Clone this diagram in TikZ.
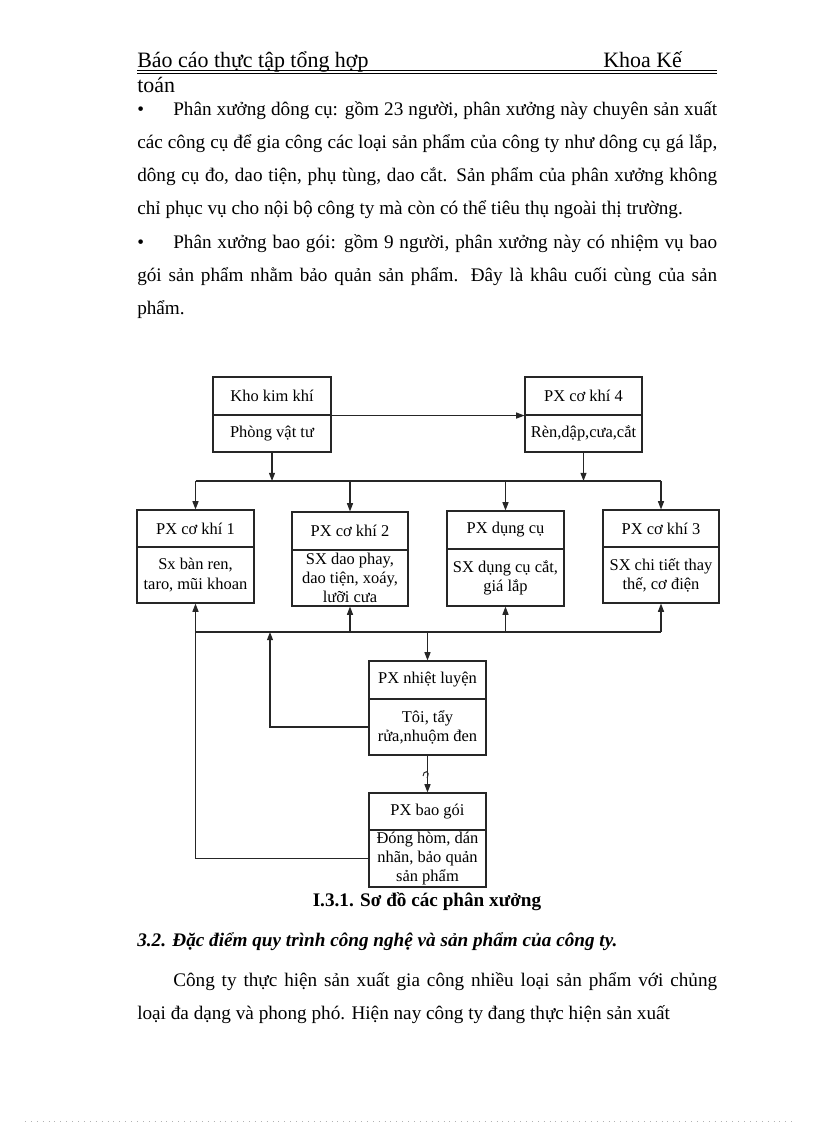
\documentclass[tikz,border=0pt]{standalone}
\usepackage{fontspec}
\setmainfont{Liberation Serif}
\usetikzlibrary{arrows.meta}
\newcommand\pbox[6]{\node[part, minimum width={(#4-#2)*0.7295pt}, minimum height={(#5-#3)*0.7295pt}] (#1) at ({(#2+#4)/2},{(#3+#5)/2}) {#6};}
\begin{document}
\begin{tikzpicture}[x=0.7295pt, y=-0.7295pt,
  part/.style={draw=black!85, line width=0.8pt, inner sep=0pt, align=center, font=\fontsize{12}{14}\selectfont},
  conn/.style={draw=black!85, line width=0.8pt},
  arr/.style={conn, -{Triangle[length=6pt,width=4.4pt]}},
  body/.style={anchor=base west, inner sep=0pt, font=\fontsize{14}{16}\selectfont},
  headtext/.style={anchor=base west, inner sep=0pt, font=\fontsize{16}{18}\selectfont},
  captext/.style={anchor=base, inner sep=0pt, font=\fontsize{14}{16}\selectfont\bfseries}]
\useasboundingbox (0,0) rectangle (816,1123);

% header
\node[headtext] (h1) at (137,67) {Báo cáo thực tập tổng hợp};
\node[headtext] (h2) at (603,67) {Khoa Kế};
\draw[line width=0.7pt] (137,70) -- (717,70);
\draw[line width=0.7pt] (137,73) -- (717,73);
\node[headtext] (h3) at (137,92) {toán};

% first bullet
\node[body] (bu1) at (137,115) {•};
\node[body] (p1) at (173,115) {\makebox[396.8pt][s]{Phân xưởng dông cụ: gồm 23 người, phân xưởng này chuyên sản xuất}};
\node[body] (p2) at (137,148) {\makebox[423.1pt][s]{các công cụ để gia công các loại sản phẩm của công ty như dông cụ gá lắp,}};
\node[body] (p3) at (137,181.5) {\makebox[423.1pt][s]{dông cụ đo, dao tiện, phụ tùng, dao cắt. Sản phẩm của phân xưởng không}};
\node[body] (p4) at (137,214.5) {chỉ phục vụ cho nội bộ công ty mà còn có thể tiêu thụ ngoài thị trường.};
% second bullet
\node[body] (bu2) at (137,248) {•};
\node[body] (q1) at (173,248) {\makebox[396.8pt][s]{Phân xưởng bao gói: gồm 9 người, phân xưởng này có nhiệm vụ bao}};
\node[body] (q2) at (137,281) {\makebox[423.1pt][s]{gói sản phẩm nhằm bảo quản sản phẩm. Đây là khâu cuối cùng của sản}};
\node[body] (q3) at (137,314) {phẩm.};

% diagram boxes
\pbox{khoT}{213}{377}{331}{415}{Kho kim khí}
\pbox{khoB}{213}{415}{331}{452}{Phòng vật tư}
\pbox{cfT}{525}{377}{642}{415}{PX cơ khí 4}
\pbox{cfB}{525}{415}{642}{452}{Rèn,dập,cưa,cắt}
\pbox{c1T}{137}{510}{254}{547}{PX cơ khí 1}
\pbox{c1B}{137}{547}{254}{603}{Sx bàn ren,\\taro, mũi khoan}
\pbox{c2T}{292}{512}{408}{550}{PX cơ khí 2}
\pbox{c2B}{292}{550}{408}{606}{SX dao phay,\\dao tiện, xoáy,\\lưỡi cưa}
\pbox{dcT}{447}{511}{564}{549}{PX dụng cụ}
\pbox{dcB}{447}{549}{564}{606}{SX dụng cụ cắt,\\giá lắp}
\pbox{c3T}{603}{510}{719}{547}{PX cơ khí 3}
\pbox{c3B}{603}{547}{719}{603}{SX chi tiết thay\\thế, cơ điện}
\pbox{nlT}{369}{661}{486}{699}{PX nhiệt luyện}
\pbox{nlB}{369}{699}{486}{755}{Tôi, tẩy\\rửa,nhuộm đen}
\pbox{bgT}{369}{793}{486}{830}{PX bao gói}
\pbox{bgB}{369}{830}{486}{887}{Đóng hòm, dán\\nhãn, bảo quản\\sản phẩm}

% buses
\coordinate (busL) at (195.5,481);
\coordinate (busR) at (661,481);
\coordinate (bus2L) at (195.5,632);
\coordinate (bus2R) at (661,632);
\coordinate (j1) at (270,632);

% connectors
\draw[arr] (khoT.south east) -- (cfT.south west);
\draw[arr] (khoB.south) -- (khoB.south |- busL);
\draw[arr] (cfB.south) -- (cfB.south |- busL);
\draw[conn] (busL) -- (busR);
\draw[arr] (c1T.north |- busL) -- (c1T.north);
\draw[arr] (c2T.north |- busL) -- (c2T.north);
\draw[arr] (dcT.north |- busL) -- (dcT.north);
\draw[arr] (c3T.north |- busL) -- (c3T.north);

\draw[conn] (bus2L) -- (bus2R);
\draw[arr] (c2B.south |- bus2L) -- (c2B.south);
\draw[arr] (dcB.south |- bus2L) -- (dcB.south);
\draw[arr] (c3B.south |- bus2L) -- (c3B.south);
\draw[arr] (nlT.north |- bus2L) -- (nlT.north);
\draw[arr] (nlB.west) -| (j1);
\draw[arr] (nlB.south) -- (bgT.north);
\draw[conn, line width=0.7pt] (423,776) .. controls (423,770) and (431,770) .. (427,778);
\draw[arr] (bgB.west) -| (c1B.south);

% caption
\node[captext] (capt) at (427,906) {I.3.1. Sơ đồ các phân xưởng};

% following text
\node[body, font=\fontsize{14}{16}\selectfont\bfseries\itshape] (s1) at (137,946) {3.2. Đặc điểm quy trình công nghệ và sản phẩm của công ty.};
\node[body] (r1) at (173,986) {\makebox[396.8pt][s]{Công ty thực hiện sản xuất gia công nhiều loại sản phẩm với chủng}};
\node[body] (r2) at (137,1019) {loại đa dạng và phong phó. Hiện nay công ty đang thực hiện sản xuất};

% page edge dots
\draw[gray!60, line width=0.6pt, dash pattern=on 0.7pt off 3.6pt] (25,1121) -- (792,1121);
\end{tikzpicture}
\end{document}
